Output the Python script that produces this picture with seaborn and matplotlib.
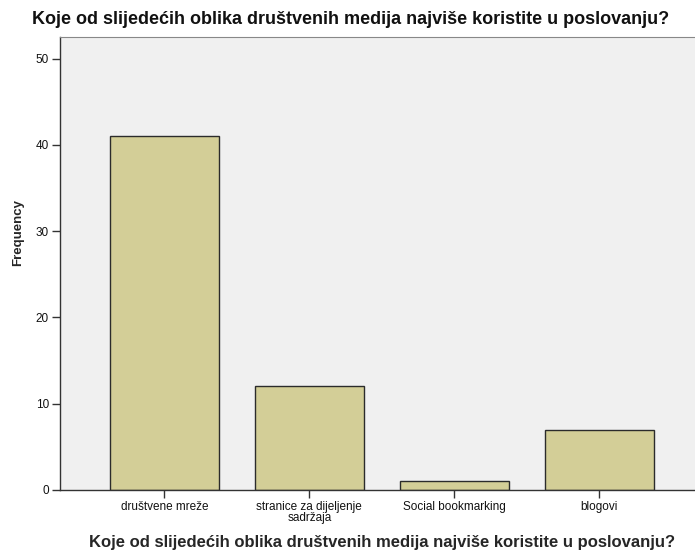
import matplotlib
matplotlib.use("Agg")
import matplotlib.pyplot as plt
import seaborn as sns
import pandas as pd

categories = ["društvene mreže", "stranice za dijeljenje\nsadržaja", "Social bookmarking", "blogovi"]
frequencies = [41, 12, 1, 7]
yticks = [0, 10, 20, 30, 40, 50]
title = "Koje od slijedećih oblika društvenih medija najviše koristite u poslovanju?"

sns.set_style("white")
plt.rcParams['font.family'] = ['Liberation Sans', 'DejaVu Sans']

df = pd.DataFrame({"cat": categories, "freq": frequencies})

W, H = 695, 554
fig = plt.figure(figsize=(6.95, 5.54), dpi=100)
ax = fig.add_axes([60/W, 64/H, 1 - 60/W, (490-37)/H])
ax.set_facecolor("#F0F0F0")

sns.barplot(data=df, x="cat", y="freq", color="#D3CE97", edgecolor="#2b2b2b",
            linewidth=1.0, width=0.75, saturation=1, ax=ax)

ax.set_ylim(0, 52.5)
ax.set_xlim(-0.72, 3.66)
ax.set_yticks(yticks)
ax.tick_params(axis='both', which='major', bottom=True, left=True, direction='out',
               length=6, width=1, color="#333333", labelsize=8.5, pad=2,
               labelcolor="#111111")
for s in ["left", "bottom"]:
    ax.spines[s].set_color("#333333")
    ax.spines[s].set_linewidth(1.0)
ax.spines["top"].set_color("#888888")
ax.spines["top"].set_linewidth(0.8)
ax.spines["right"].set_visible(False)
ax.set_xticks(range(len(categories)))
ax.set_xticklabels(categories, linespacing=0.92)

ax.set_ylabel("Frequency", fontsize=9.5, fontweight="bold")
ax.yaxis.set_label_coords(-(60-24)/(W-60), (490-233)/(490-37))
ax.set_xlabel(title, fontsize=12, fontweight="bold", va="center")
ax.xaxis.set_label_coords((382-60)/(W-60), -(543-490)/(490-37))
fig.text(351/W, 1 - 20/H, title, ha="center", va="center", fontsize=13, fontweight="bold",
         color="#111111")

fig.savefig("out.png", dpi=100, facecolor="white")
